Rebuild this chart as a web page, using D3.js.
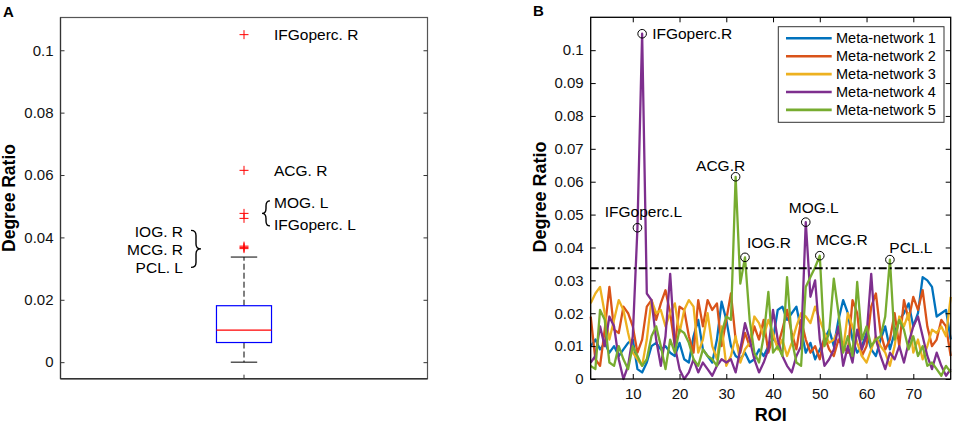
<!DOCTYPE html>
<html>
<head>
<meta charset="utf-8">
<script src="https://cdn.jsdelivr.net/npm/d3@7"></script>
<style>
  body { margin: 0; background: #fff; }
  svg { font-family: "Liberation Sans", Arial, Helvetica, sans-serif; }
</style>
</head>
<body>
<svg id="fig" width="957" height="425"></svg>
<script>
// ---- panel A: boxplot summary (min, q1, median, q3, upper whisker) ----
const boxStats = [0, 0.0063, 0.0103, 0.0181, 0.0337];
const outliers = [0.105, 0.0615, 0.0477, 0.0461, 0.0372, 0.0368, 0.0364];
const labelsSingle = [
    { text: "IFGoperc. R", value: 0.105 },
    { text: "ACG. R", value: 0.0615 }
];
const groupRight = { texts: ["MOG. L", "IFGoperc. L"], values: [0.0477, 0.0461] };
const groupLeft = { texts: ["IOG. R", "MCG. R", "PCL. L"], values: [0.0372, 0.0368, 0.0364] };
const yTicksA = [0, 0.02, 0.04, 0.06, 0.08, 0.1];

// ---- panel B: degree ratio per ROI for each meta-network ----
const roi = d3.range(1, 79);
const seriesNames = ["Meta-network 1", "Meta-network 2", "Meta-network 3", "Meta-network 4", "Meta-network 5"];
const mn1 = [0.010, 0.012, 0.009, 0.011, 0.008, 0.010, 0.007, 0.009, 0.011, 0.012,
             0.003, 0.002, 0.005, 0.010, 0.011, 0.009, 0.010, 0.008, 0.007, 0.011,
             0.006, 0.005, 0.013, 0.018, 0.009, 0.007, 0.005, 0.012, 0.0235, 0.018,
             0.010, 0.007, 0.006, 0.008, 0.005, 0.006, 0.009, 0.007, 0.010, 0.012,
             0.021, 0.022, 0.018, 0.020, 0.022, 0.015, 0.008, 0.011, 0.006, 0.009,
             0.012, 0.015, 0.010, 0.018, 0.024, 0.020, 0.012, 0.008, 0.010, 0.014,
             0.009, 0.007, 0.012, 0.016, 0.009, 0.014, 0.018, 0.020, 0.023, 0.016,
             0.020, 0.031, 0.030, 0.028, 0.019, 0.020, 0.021, 0.012];
const mn2 = [0.019, 0.006, 0.004, 0.015, 0.028, 0.015, 0.014, 0.022, 0.020, 0.016,
             0.008, 0.012, 0.022, 0.024, 0.018, 0.023, 0.027, 0.020, 0.010, 0.022,
             0.021, 0.013, 0.008, 0.024, 0.016, 0.024, 0.021, 0.023, 0.010, 0.018,
             0.026, 0.012, 0.008, 0.014, 0.010, 0.016, 0.012, 0.018, 0.008, 0.013,
             0.010, 0.015, 0.021, 0.014, 0.009, 0.018, 0.012, 0.008, 0.010, 0.006,
             0.013, 0.009, 0.007, 0.012, 0.010, 0.008, 0.024, 0.020, 0.007, 0.010,
             0.022, 0.026, 0.014, 0.009, 0.012, 0.020, 0.010, 0.024, 0.018, 0.025,
             0.021, 0.027, 0.016, 0.010, 0.012, 0.018, 0.016, 0.007];
const mn3 = [0.023, 0.026, 0.028, 0.020, 0.012, 0.018, 0.024, 0.021, 0.014, 0.008,
             0.006, 0.004, 0.012, 0.024, 0.020, 0.021, 0.016, 0.020, 0.023, 0.014,
             0.021, 0.024, 0.022, 0.008, 0.012, 0.020, 0.010, 0.006, 0.016, 0.004,
             0.007, 0.013, 0.005, 0.009, 0.011, 0.019, 0.017, 0.013, 0.018, 0.014,
             0.009, 0.012, 0.007, 0.011, 0.016, 0.020, 0.019, 0.017, 0.022, 0.018,
             0.014, 0.011, 0.012, 0.015, 0.009, 0.020, 0.016, 0.011, 0.007, 0.005,
             0.009, 0.013, 0.010, 0.008, 0.004, 0.010, 0.019, 0.016, 0.020, 0.008,
             0.012, 0.006, 0.010, 0.015, 0.014, 0.016, 0.013, 0.025];
const mn4 = [0.005, 0.007, 0.016, 0.010, 0.019, 0.016, 0.006, 0.000, 0.004, 0.013,
             0.046, 0.105, 0.026, 0.024, 0.012, 0.004, 0.013, 0.032, 0.010, 0.003,
             0.000, 0.002, 0.006, 0.002, 0.005, 0.003, 0.001, 0.004, 0.006, 0.005,
             0.006, 0.002, 0.009, 0.017, 0.012, 0.006, 0.002, 0.005, 0.009, 0.021,
             0.012, 0.007, 0.004, 0.002, 0.007, 0.010, 0.0477, 0.025, 0.030, 0.012,
             0.004, 0.006, 0.009, 0.016, 0.004, 0.010, 0.005, 0.015, 0.009, 0.013,
             0.032, 0.012, 0.007, 0.003, 0.008, 0.006, 0.010, 0.005, 0.011, 0.016,
             0.019, 0.013, 0.007, 0.003, 0.008, 0.004, 0.001, 0.003];
const mn5 = [0.004, 0.003, 0.021, 0.018, 0.005, 0.004, 0.010, 0.006, 0.003, 0.010,
             0.007, 0.004, 0.006, 0.013, 0.016, 0.010, 0.003, 0.012, 0.008, 0.015,
             0.014, 0.011, 0.006, 0.004, 0.009, 0.007, 0.006, 0.004, 0.014, 0.019,
             0.018, 0.0615, 0.029, 0.037, 0.018, 0.008, 0.005, 0.013, 0.0265, 0.008,
             0.010, 0.007, 0.031, 0.012, 0.005, 0.004, 0.028, 0.031, 0.034, 0.0375,
             0.010, 0.014, 0.0305, 0.020, 0.008, 0.013, 0.007, 0.0295, 0.012, 0.016,
             0.010, 0.012, 0.013, 0.019, 0.0363, 0.012, 0.018, 0.015, 0.009, 0.013,
             0.007, 0.010, 0.004, 0.005, 0.003, 0.001, 0.004, 0.002];
const threshold = 0.0337;
const yTicksB = d3.range(0, 0.1001, 0.01);
const xTicksB = [10, 20, 30, 40, 50, 60, 70];

// marked hubs: label, series index, ROI
const hubLabels = ["IFGoperc.R", "IFGoperc.L", "ACG.R", "IOG.R", "MOG.L", "MCG.R", "PCL.L"];
const hubSeries = [3, 3, 4, 4, 3, 4, 4];
const hubRoi = [12, 11, 32, 34, 47, 50, 65];

// label offsets (layout only)
const hubOffsets = {
    "IFGoperc.R": [10, 0, "start"],
    "IFGoperc.L": [6, -16, "middle"],
    "ACG.R": [-15, -11, "middle"],
    "IOG.R": [2, -15, "start"],
    "MOG.L": [8, -15, "middle"],
    "MCG.R": [22, -16, "middle"],
    "PCL.L": [21, -12, "middle"]
};

const colors = ["#0072BD", "#D95319", "#EDB120", "#7E2F8E", "#77AC30"];
const allSeries = [mn1, mn2, mn3, mn4, mn5];

const svg = d3.select("#fig");

// curly brace, dir = 1 -> "}", dir = -1 -> "{"
function bracePath(x, y1, y2, w, dir) {
    const ym = (y1 + y2) / 2, q = 5, xm = x + dir * w / 2;
    const p = d3.path();
    p.moveTo(x, y1);
    p.quadraticCurveTo(xm, y1, xm, y1 + q);
    p.lineTo(xm, ym - q);
    p.quadraticCurveTo(xm, ym, x + dir * w, ym);
    p.quadraticCurveTo(xm, ym, xm, ym + q);
    p.lineTo(xm, y2 - q);
    p.quadraticCurveTo(xm, y2, x, y2);
    return p.toString();
}

// =================== Panel A ===================
const A = { left: 60.5, right: 427.5, top: 17.5, bottom: 378.7 };

const yA = d3.scaleLinear()
    .domain([-0.0053, 0.1105])
    .range([A.bottom, A.top]);

const xA = d3.scalePoint()
    .domain(["1"])
    .range([A.left, A.right])
    .padding(0.5);

const cx = xA("1");
const bw = 0.15 * (A.right - A.left);

svg.append("rect")
    .attr("x", A.left).attr("y", A.top)
    .attr("width", A.right - A.left).attr("height", A.bottom - A.top)
    .attr("fill", "none").attr("stroke", "#555").attr("stroke-width", 1.2);

svg.append("line")
    .attr("x1", A.left).attr("x2", A.right)
    .attr("y1", A.bottom).attr("y2", A.bottom)
    .attr("stroke", "#333").attr("stroke-width", 1.6);

svg.append("line")
    .attr("x1", A.left).attr("x2", A.left)
    .attr("y1", A.top).attr("y2", A.bottom)
    .attr("stroke", "#333").attr("stroke-width", 1.2);

svg.append("g")
    .attr("transform", `translate(${A.left},0)`)
    .call(d3.axisLeft(yA).tickValues(yTicksA).tickSize(-4).tickPadding(7)
        .tickFormat(d => d === 0 ? "0" : d3.format("")(+d.toFixed(2))))
    .call(g => g.select(".domain").remove())
    .call(g => g.selectAll("line").attr("stroke", "#333"))
    .selectAll("text")
    .style("font-size", "15px")
    .attr("fill", "#111");

svg.append("g")
    .attr("transform", `translate(${A.right},0)`)
    .call(d3.axisRight(yA).tickValues(yTicksA).tickSize(-4).tickFormat(""))
    .call(g => g.select(".domain").remove())
    .call(g => g.selectAll("line").attr("stroke", "#333"));

// x tick at box centre
svg.append("line")
    .attr("x1", cx).attr("x2", cx)
    .attr("y1", A.bottom).attr("y2", A.bottom - 4)
    .attr("stroke", "#333");

// whiskers
svg.append("line")
    .attr("x1", cx).attr("x2", cx)
    .attr("y1", yA(boxStats[3])).attr("y2", yA(boxStats[4]))
    .attr("stroke", "#000").attr("stroke-dasharray", "6,3");
svg.append("line")
    .attr("x1", cx).attr("x2", cx)
    .attr("y1", yA(boxStats[1])).attr("y2", yA(boxStats[0]))
    .attr("stroke", "#000").attr("stroke-dasharray", "6,3");

svg.selectAll(".cap")
    .data([boxStats[0], boxStats[4]])
    .enter()
    .append("line")
    .attr("x1", cx - bw * 0.24).attr("x2", cx + bw * 0.24)
    .attr("y1", d => yA(d)).attr("y2", d => yA(d))
    .attr("stroke", "#000");

svg.append("rect")
    .attr("x", cx - bw / 2).attr("width", bw)
    .attr("y", yA(boxStats[3])).attr("height", yA(boxStats[1]) - yA(boxStats[3]))
    .attr("fill", "none").attr("stroke", "#0000ff").attr("stroke-width", 1.2);

svg.append("line")
    .attr("x1", cx - bw / 2).attr("x2", cx + bw / 2)
    .attr("y1", yA(boxStats[2])).attr("y2", yA(boxStats[2]))
    .attr("stroke", "#ff0000").attr("stroke-width", 1.2);

// outlier crosses
const plus = svg.append("g")
    .selectAll("g")
    .data(outliers)
    .enter()
    .append("g")
    .attr("transform", d => `translate(${cx},${yA(d)})`)
    .attr("stroke", "#ff0000").attr("stroke-width", 1);
plus.append("line").attr("x1", -4.5).attr("x2", 4.5);
plus.append("line").attr("y1", -4.5).attr("y2", 4.5);

// outlier labels
svg.append("g")
    .selectAll("text")
    .data(labelsSingle)
    .enter()
    .append("text")
    .attr("x", cx + 30)
    .attr("y", d => yA(d.value))
    .attr("dy", "0.35em")
    .style("font-size", "15.5px")
    .text(d => d.text);

const rc = yA(d3.mean(groupRight.values)) - 2;
svg.append("g")
    .selectAll("text")
    .data(groupRight.texts)
    .enter()
    .append("text")
    .attr("x", cx + 30)
    .attr("y", (d, i) => rc + (i - 0.5) * 21.7)
    .attr("dy", "0.35em")
    .style("font-size", "15.5px")
    .text(d => d);
svg.append("path")
    .attr("d", bracePath(cx + 26, rc - 13, rc + 12, 8, -1))
    .attr("fill", "none").attr("stroke", "#000").attr("stroke-width", 1.4);

const lc = yA(d3.mean(groupLeft.values)) + 2;
svg.append("g")
    .selectAll("text")
    .data(groupLeft.texts)
    .enter()
    .append("text")
    .attr("x", cx - 61)
    .attr("y", (d, i) => lc + (i - 1) * 18)
    .attr("dy", "0.35em")
    .attr("text-anchor", "end")
    .style("font-size", "15.5px")
    .text(d => d);
svg.append("path")
    .attr("d", bracePath(cx - 53, lc - 19, lc + 18, 10, 1))
    .attr("fill", "none").attr("stroke", "#000").attr("stroke-width", 1.4);

svg.append("text")
    .attr("transform", `translate(15,198) rotate(-90)`)
    .attr("text-anchor", "middle")
    .style("font-size", "17.5px").style("font-weight", "bold")
    .text("Degree Ratio");

svg.append("text")
    .attr("x", 3).attr("y", 17)
    .style("font-size", "15px").style("font-weight", "bold")
    .text("A");

// =================== Panel B ===================
const B = { left: 590.7, right: 950.7, top: 17.3, bottom: 379 };

const xB = d3.scaleLinear().domain([1, 78]).range([B.left, B.right]);
const yB = d3.scaleLinear().domain([0, 0.11]).range([B.bottom, B.top]);

const line = d3.line()
    .x((d, i) => xB(roi[i]))
    .y(d => yB(d));

svg.append("g")
    .selectAll("path")
    .data(allSeries)
    .enter()
    .append("path")
    .attr("fill", "none")
    .attr("stroke", (d, i) => colors[i])
    .attr("stroke-width", 2.3)
    .attr("stroke-linejoin", "round")
    .attr("d", d => line(d));

// threshold
svg.append("line")
    .attr("x1", B.left).attr("x2", B.right)
    .attr("y1", yB(threshold)).attr("y2", yB(threshold))
    .attr("stroke", "#000").attr("stroke-width", 2)
    .attr("stroke-dasharray", "8,3,2,3");

// axes frame
svg.append("rect")
    .attr("x", B.left).attr("y", B.top)
    .attr("width", B.right - B.left).attr("height", B.bottom - B.top)
    .attr("fill", "none").attr("stroke", "#000").attr("stroke-width", 1.3);

svg.append("g")
    .attr("transform", `translate(${B.left},0)`)
    .call(d3.axisLeft(yB).tickValues(yTicksB).tickSize(-5).tickPadding(7)
        .tickFormat(d => d3.format("")(+d.toFixed(2))))
    .call(g => g.select(".domain").remove())
    .selectAll("text")
    .style("font-size", "15px")
    .attr("fill", "#111");

svg.append("g")
    .attr("transform", `translate(${B.right},0)`)
    .call(d3.axisRight(yB).tickValues(yTicksB).tickSize(-5).tickFormat(""))
    .call(g => g.select(".domain").remove());

svg.append("g")
    .attr("transform", `translate(0,${B.bottom})`)
    .call(d3.axisBottom(xB).tickValues(xTicksB).tickSize(-5).tickPadding(9))
    .call(g => g.select(".domain").remove())
    .selectAll("text")
    .style("font-size", "15px")
    .attr("fill", "#111");

svg.append("g")
    .attr("transform", `translate(0,${B.top})`)
    .call(d3.axisTop(xB).tickValues(xTicksB).tickSize(-5).tickFormat(""))
    .call(g => g.select(".domain").remove());

// hub markers
const hubs = hubLabels.map((t, i) => ({
    text: t,
    x: xB(hubRoi[i]),
    y: yB(allSeries[hubSeries[i]][hubRoi[i] - 1])
}));

svg.append("g")
    .selectAll("circle")
    .data(hubs)
    .enter()
    .append("circle")
    .attr("cx", d => d.x).attr("cy", d => d.y)
    .attr("r", 4.3)
    .attr("fill", "none").attr("stroke", "#000").attr("stroke-width", 1);

svg.append("g")
    .selectAll("text")
    .data(hubs)
    .enter()
    .append("text")
    .attr("x", d => d.x + hubOffsets[d.text][0])
    .attr("y", d => d.y + hubOffsets[d.text][1])
    .attr("dy", "0.35em")
    .attr("text-anchor", d => hubOffsets[d.text][2])
    .style("font-size", "15.5px")
    .text(d => d.text);

// legend
const legend = svg.append("g").attr("transform", "translate(778.3,26.7)");
legend.append("rect")
    .attr("width", 165.7).attr("height", 95.6)
    .attr("fill", "#fff").attr("stroke", "#333").attr("stroke-width", 1);
const items = legend.selectAll(".item")
    .data(seriesNames)
    .enter()
    .append("g")
    .attr("transform", (d, i) => `translate(0,${11.6 + i * 17.9})`);
items.append("line")
    .attr("x1", 7.7).attr("x2", 53.4)
    .attr("stroke", (d, i) => colors[i]).attr("stroke-width", 2.6);
items.append("text")
    .attr("x", 57.7).attr("dy", "0.35em")
    .style("font-size", "14.5px")
    .text(d => d);

svg.append("text")
    .attr("transform", `translate(546,197) rotate(-90)`)
    .attr("text-anchor", "middle")
    .style("font-size", "18px").style("font-weight", "bold")
    .text("Degree Ratio");

svg.append("text")
    .attr("x", 770.7).attr("y", 421)
    .attr("text-anchor", "middle")
    .style("font-size", "18px").style("font-weight", "bold")
    .text("ROI");

svg.append("text")
    .attr("x", 533).attr("y", 15.5)
    .style("font-size", "15px").style("font-weight", "bold")
    .text("B");
</script>
</body>
</html>
